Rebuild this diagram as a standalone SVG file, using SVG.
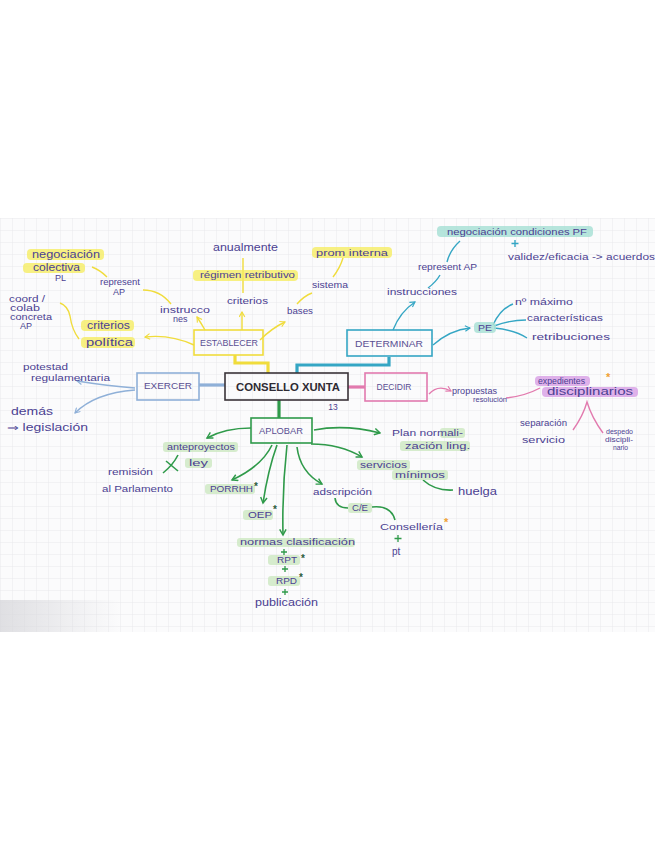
<svg xmlns="http://www.w3.org/2000/svg" width="655" height="848" viewBox="0 0 655 848">
<defs>
<pattern id="grid" width="12" height="12" patternUnits="userSpaceOnUse" x="0" y="218">
<path d="M12,0 L0,0 0,12" fill="none" stroke="#e3e3e8" stroke-width="0.8"/>
</pattern>
<linearGradient id="shadow" x1="0" y1="0" x2="1" y2="0">
<stop offset="0" stop-color="#d8d8dc" stop-opacity="0.8"/>
<stop offset="1" stop-color="#d8d8dc" stop-opacity="0"/>
</linearGradient>
<marker id="aY" viewBox="0 0 10 10" refX="8" refY="5" markerWidth="7" markerHeight="7" orient="auto" markerUnits="userSpaceOnUse"><path d="M1,1 L8,5 L1,9" fill="none" stroke="#f0dc3c" stroke-width="1.6"/></marker>
<marker id="aB" viewBox="0 0 10 10" refX="8" refY="5" markerWidth="7" markerHeight="7" orient="auto" markerUnits="userSpaceOnUse"><path d="M1,1 L8,5 L1,9" fill="none" stroke="#35a6c4" stroke-width="1.6"/></marker>
<marker id="aL" viewBox="0 0 10 10" refX="8" refY="5" markerWidth="7" markerHeight="7" orient="auto" markerUnits="userSpaceOnUse"><path d="M1,1 L8,5 L1,9" fill="none" stroke="#8fb0d8" stroke-width="1.6"/></marker>
<marker id="aP" viewBox="0 0 10 10" refX="8" refY="5" markerWidth="7" markerHeight="7" orient="auto" markerUnits="userSpaceOnUse"><path d="M1,1 L8,5 L1,9" fill="none" stroke="#e27aae" stroke-width="1.6"/></marker>
<marker id="aG" viewBox="0 0 10 10" refX="8" refY="5" markerWidth="8" markerHeight="8" orient="auto" markerUnits="userSpaceOnUse"><path d="M1,1 L8,5 L1,9" fill="none" stroke="#2f9a4a" stroke-width="1.8"/></marker>
</defs>
<style>
text{font-family:"Liberation Sans","DejaVu Sans",sans-serif;font-size:9px;fill:#4b3f92;}
.box{fill:none;stroke-width:1.6;}
.bt{font-size:9.5px;fill:#5a4f93;text-anchor:middle;}
.y{stroke:#f0dc3c;fill:none;stroke-width:1.4;}
.b{stroke:#35a6c4;fill:none;stroke-width:1.4;}
.l{stroke:#8fb0d8;fill:none;stroke-width:1.4;}
.p{stroke:#e27aae;fill:none;stroke-width:1.4;}
.g{stroke:#2f9a4a;fill:none;stroke-width:1.6;}
.hy{fill:#f6ec5a;opacity:0.75;}
.hg{fill:#cfe9c4;opacity:0.85;}
.ht{fill:#a9e0d6;opacity:0.85;}
.hp{fill:#d9a3e6;opacity:0.85;}
.pl{stroke:#2f9a4a;stroke-width:1.3;fill:none;}
.star{fill:#2a5a3a;font-size:10px;font-weight:bold;}
.ostar{fill:#f0a030;font-size:11px;font-weight:bold;}
</style>
<rect width="655" height="848" fill="#ffffff"/>
<rect x="0" y="218" width="655" height="414" fill="#fbfbfc"/>
<rect x="0" y="218" width="655" height="414" fill="url(#grid)"/>
<rect x="0" y="600" width="120" height="32" fill="url(#shadow)"/>

<g id="connectors">
<polyline points="235,355 235,363 268,363 268,373" fill="none" stroke="#f0dc3c" stroke-width="3.2"/>
<polyline points="389,357 389,365 297,365 297,373" fill="none" stroke="#35a6c4" stroke-width="3.2"/>
<line x1="199" y1="385" x2="225" y2="385" stroke="#8fb0d8" stroke-width="3.2"/>
<line x1="348" y1="387" x2="365" y2="387" stroke="#e27aae" stroke-width="3.2"/>
<line x1="279" y1="400" x2="279" y2="418" stroke="#2f9a4a" stroke-width="3.2"/>
<path class="y" d="M205,330 Q201,323 197,317" marker-end="url(#aY)"/>
<path class="y" d="M171,304 Q160,290 143,290"/>
<path class="y" d="M107,277 Q100,270 92,267"/>
<path class="y" d="M194,345 Q170,334 145,337" marker-end="url(#aY)"/>
<path class="y" d="M79,339 Q72,330 70,316 Q68,306 60,303"/>
<path class="y" d="M242,330 L242,312" marker-end="url(#aY)"/>
<path class="y" d="M243,293 L243,258"/>
<path class="y" d="M260,340 Q272,328 285,322" marker-end="url(#aY)"/>
<path class="y" d="M297,304 Q304,296 312,293"/>
<path class="y" d="M333,277 Q340,268 343,258"/>
<path class="b" d="M393,330 Q400,312 415,302" marker-end="url(#aB)"/>
<path class="b" d="M428,288 Q436,282 440,275"/>
<path class="b" d="M447,262 Q450,250 460,241"/>
<path class="b" d="M433,345 Q450,330 470,328" marker-end="url(#aB)"/>
<path class="b" d="M493,325 Q500,309 513,304"/>
<path class="b" d="M494,326 Q510,320 526,320"/>
<path class="b" d="M494,328 Q515,330 527,338"/>
<path class="b" d="M515,240 L515,247 M511.5,243.5 L518.5,243.5"/>
<path class="l" d="M135,388 Q108,386 77,381" marker-end="url(#aL)"/>
<path class="l" d="M135,390 Q95,393 75,413" marker-end="url(#aL)"/>
<path class="p" d="M429,394 Q438,384 451,391" marker-end="url(#aP)"/>
<path class="p" d="M506,398 Q525,396 540,388"/>
<path class="p" stroke-width="1.8" d="M573,430 Q583,416 587,402 Q592,418 603,433"/>
<path class="g" d="M251,428 Q225,428 207,438" marker-end="url(#aG)"/>
<path class="g" d="M178,455 Q173,465 163,473"/>
<path class="g" d="M166,461 L178,471"/>
<path class="g" d="M272,445 Q262,466 232,480" marker-end="url(#aG)"/>
<path class="g" d="M277,445 Q268,470 263,503" marker-end="url(#aG)"/>
<path class="g" d="M287,445 Q282,490 283,535" marker-end="url(#aG)"/>
<path class="g" d="M297,447 Q300,472 322,484" marker-end="url(#aG)"/>
<path class="g" d="M335,498 Q336,508 348,508"/>
<path class="g" d="M372,507 Q391,505 395,520"/>
<path class="g" d="M311,444 Q340,444 362,457" marker-end="url(#aG)"/>
<path class="g" d="M423,480 Q435,491 453,490"/>
<path class="g" d="M314,430 Q345,424 380,433" marker-end="url(#aG)"/>
<path class="pl" d="M284,549 L284,555 M281,552 L287,552"/>
<path class="pl" d="M285,566 L285,572 M282,569 L288,569"/>
<path class="pl" d="M285,589 L285,595 M282,592 L288,592"/>
<path class="pl" d="M398,535 L398,542 M394.5,538.5 L401.5,538.5"/>
</g>

<g id="consello">
<rect class="box" x="225" y="373" width="123" height="27" stroke="#3a3338" stroke-width="2"/>
<text x="288" y="391" text-anchor="middle" style="font-size:11.5px;fill:#2e2a33;font-weight:bold" textLength="104" lengthAdjust="spacingAndGlyphs">CONSELLO XUNTA</text>
<text x="333" y="410" text-anchor="middle" style="font-size:8.5px">13</text>
</g>

<g id="establecer">
<rect class="box" x="194" y="330" width="69" height="25" stroke="#f0dc3c"/>
<text class="bt" x="229" y="346" textLength="58" lengthAdjust="spacingAndGlyphs">ESTABLECER</text>
</g>
<g id="est-instrucciones"><text x="160" y="313" textLength="50" lengthAdjust="spacingAndGlyphs">instrucco</text><text x="173" y="322">nes</text></g>
<g id="est-represent"><text x="100" y="285" textLength="40" lengthAdjust="spacingAndGlyphs">represent</text><text x="113" y="295">AP</text></g>
<g id="est-negociacion">
<rect class="hy" x="27" y="249" width="77" height="11" rx="4"/>
<rect class="hy" x="23" y="263" width="62" height="10" rx="4"/>
<text x="32" y="258" textLength="68" lengthAdjust="spacingAndGlyphs" style="font-size:10px">negociación</text>
<text x="33" y="271" textLength="47" lengthAdjust="spacingAndGlyphs" style="font-size:10px">colectiva</text>
<text x="55" y="281">PL</text>
</g>
<g id="est-coord">
<text x="9" y="302" textLength="36" lengthAdjust="spacingAndGlyphs">coord /</text>
<text x="10" y="311" textLength="30" lengthAdjust="spacingAndGlyphs">colab</text>
<text x="10" y="320" textLength="42" lengthAdjust="spacingAndGlyphs">concreta</text>
<text x="20" y="329">AP</text>
</g>
<g id="est-criterios-politica">
<rect class="hy" x="81" y="320" width="53" height="11" rx="4"/>
<rect class="hy" x="81" y="337" width="54" height="11" rx="4"/>
<text x="87" y="329" textLength="43" lengthAdjust="spacingAndGlyphs" style="font-size:10px">criterios</text>
<text x="86" y="346" textLength="47" lengthAdjust="spacingAndGlyphs" style="font-size:10.5px">política</text>
</g>
<g id="est-criterios"><text x="227" y="304" textLength="41" lengthAdjust="spacingAndGlyphs">criterios</text></g>
<g id="est-regimen">
<rect class="hy" x="193" y="270" width="105" height="11" rx="4"/>
<text x="200" y="278" textLength="95" lengthAdjust="spacingAndGlyphs">régimen retributivo</text>
</g>
<g id="est-anualmente"><text x="213" y="251" textLength="65" lengthAdjust="spacingAndGlyphs" style="font-size:10px">anualmente</text></g>
<g id="est-bases"><text x="287" y="314" textLength="26" lengthAdjust="spacingAndGlyphs">bases</text></g>
<g id="est-sistema"><text x="312" y="288" textLength="36" lengthAdjust="spacingAndGlyphs">sistema</text></g>
<g id="est-prom">
<rect class="hy" x="312" y="247" width="80" height="11" rx="4"/>
<text x="316" y="256" textLength="72" lengthAdjust="spacingAndGlyphs">prom interna</text>
</g>

<g id="determinar">
<rect class="box" x="347" y="330" width="85" height="26" stroke="#35a6c4"/>
<text class="bt" x="389" y="347" textLength="68" lengthAdjust="spacingAndGlyphs">DETERMINAR</text>
</g>
<g id="det-instrucciones"><text x="387" y="295" textLength="70" lengthAdjust="spacingAndGlyphs">instrucciones</text></g>
<g id="det-represent"><text x="418" y="270" textLength="59" lengthAdjust="spacingAndGlyphs">represent AP</text></g>
<g id="det-negociacion">
<rect class="ht" x="437" y="226" width="156" height="11" rx="4"/>
<text x="447" y="235" textLength="140" lengthAdjust="spacingAndGlyphs">negociación condiciones PF</text>
<text x="508" y="260" textLength="147" lengthAdjust="spacingAndGlyphs">validez/eficacia -&gt; acuerdos</text>
</g>
<g id="det-pe">
<rect class="ht" x="474" y="322" width="22" height="11" rx="4"/>
<text x="478" y="331" textLength="14" lengthAdjust="spacingAndGlyphs">PE</text>
</g>
<g id="det-maximo"><text x="515" y="305" textLength="58" lengthAdjust="spacingAndGlyphs">nº máximo</text></g>
<g id="det-caracteristicas"><text x="527" y="321" textLength="76" lengthAdjust="spacingAndGlyphs">características</text></g>
<g id="det-retribuciones"><text x="532" y="340" textLength="78" lengthAdjust="spacingAndGlyphs">retribuciones</text></g>

<g id="exercer">
<rect class="box" x="137" y="373" width="62" height="27" stroke="#8fb0d8"/>
<text class="bt" x="168" y="389" textLength="48" lengthAdjust="spacingAndGlyphs">EXERCER</text>
</g>
<g id="exe-potestad">
<text x="23" y="370" textLength="45" lengthAdjust="spacingAndGlyphs">potestad</text>
<text x="31" y="381" textLength="79" lengthAdjust="spacingAndGlyphs">regulamentaria</text>
</g>
<g id="exe-demas">
<text x="11" y="415" textLength="42" lengthAdjust="spacingAndGlyphs" style="font-size:10.5px">demás</text>
<text x="7" y="431" textLength="81" lengthAdjust="spacingAndGlyphs" style="font-size:10px">⇒ legislación</text>
</g>

<g id="decidir">
<rect class="box" x="365" y="373" width="62" height="28" stroke="#e27aae"/>
<text class="bt" x="394" y="390" textLength="35" lengthAdjust="spacingAndGlyphs" style="font-size:8.5px">DECIDIR</text>
</g>
<g id="dec-propuestas">
<text x="452" y="394" textLength="45" lengthAdjust="spacingAndGlyphs">propuestas</text>
<text x="473" y="402" textLength="34" lengthAdjust="spacingAndGlyphs" style="font-size:8px">resolución</text>
</g>
<g id="dec-expedientes">
<rect class="hp" x="535" y="376" width="55" height="10" rx="4"/>
<rect class="hp" x="542" y="387" width="96" height="10" rx="4"/>
<text x="538" y="384" textLength="47" lengthAdjust="spacingAndGlyphs">expedientes</text>
<text x="547" y="395" textLength="86" lengthAdjust="spacingAndGlyphs" style="font-size:10px">disciplinarios</text>
<text class="ostar" x="606" y="381">*</text>
</g>
<g id="dec-separacion">
<text x="520" y="426" textLength="47" lengthAdjust="spacingAndGlyphs">separación</text>
<text x="522" y="443" textLength="43" lengthAdjust="spacingAndGlyphs">servicio</text>
</g>
<g id="dec-despedo">
<text x="606" y="434" textLength="27" lengthAdjust="spacingAndGlyphs" style="font-size:7px">despedo</text>
<text x="605" y="442" textLength="28" lengthAdjust="spacingAndGlyphs" style="font-size:7px">discipli-</text>
<text x="613" y="450" textLength="15" lengthAdjust="spacingAndGlyphs" style="font-size:7px">nario</text>
</g>

<g id="aplobar">
<rect class="box" x="251" y="418" width="61" height="25" stroke="#2f9a4a"/>
<text class="bt" x="281" y="434" textLength="44" lengthAdjust="spacingAndGlyphs">APLOBAR</text>
</g>
<g id="apl-anteproyectos">
<rect class="hg" x="163" y="442" width="75" height="10" rx="3"/>
<rect class="hg" x="185" y="458" width="27" height="10" rx="3"/>
<text x="167" y="450" textLength="68" lengthAdjust="spacingAndGlyphs">anteproyectos</text>
<text x="189" y="466" textLength="19" lengthAdjust="spacingAndGlyphs">ley</text>
</g>
<g id="apl-remision">
<text x="108" y="475" textLength="45" lengthAdjust="spacingAndGlyphs">remisión</text>
<text x="102" y="492" textLength="71" lengthAdjust="spacingAndGlyphs">al Parlamento</text>
</g>
<g id="apl-porrhh">
<rect class="hg" x="205" y="484" width="50" height="10" rx="3"/>
<text x="210" y="492" textLength="43" lengthAdjust="spacingAndGlyphs">PORRHH</text>
<text class="star" x="254" y="490">*</text>
</g>
<g id="apl-oep">
<rect class="hg" x="243" y="510" width="30" height="10" rx="3"/>
<text x="248" y="518" textLength="24" lengthAdjust="spacingAndGlyphs">OEP</text>
<text class="star" x="273" y="513">*</text>
</g>
<g id="apl-normas">
<rect class="hg" x="237" y="538" width="118" height="9" rx="3" opacity="0.5"/>
<text x="240" y="545" textLength="115" lengthAdjust="spacingAndGlyphs">normas clasificación</text>
<rect class="hg" x="268" y="555" width="32" height="10" rx="3"/>
<text x="277" y="563" textLength="20" lengthAdjust="spacingAndGlyphs">RPT</text>
<text class="star" x="301" y="562">*</text>
<rect class="hg" x="268" y="576" width="32" height="10" rx="3"/>
<text x="276" y="584" textLength="21" lengthAdjust="spacingAndGlyphs">RPD</text>
<text class="star" x="299" y="581">*</text>
<text x="255" y="606" textLength="63" lengthAdjust="spacingAndGlyphs" style="font-size:10px">publicación</text>
</g>
<g id="apl-adscripcion"><text x="313" y="495" textLength="59" lengthAdjust="spacingAndGlyphs">adscripción</text></g>
<g id="apl-ce">
<rect class="hg" x="348" y="503" width="24" height="10" rx="3"/>
<text x="352" y="511" textLength="16" lengthAdjust="spacingAndGlyphs">C/E</text>
</g>
<g id="apl-conselleria">
<text x="380" y="530" textLength="63" lengthAdjust="spacingAndGlyphs" style="font-size:9.5px">Consellería</text>
<text class="ostar" x="444" y="526">*</text>
<text x="392" y="555" style="font-size:10px">pt</text>
</g>
<g id="apl-servicios">
<rect class="hg" x="357" y="460" width="53" height="10" rx="3"/>
<rect class="hg" x="392" y="470" width="56" height="10" rx="3"/>
<text x="360" y="468" textLength="47" lengthAdjust="spacingAndGlyphs">servicios</text>
<text x="395" y="478" textLength="50" lengthAdjust="spacingAndGlyphs">mínimos</text>
</g>
<g id="apl-huelga"><text x="458" y="495" textLength="39" lengthAdjust="spacingAndGlyphs" style="font-size:10px">huelga</text></g>
<g id="apl-plan">
<rect class="hg" x="440" y="428" width="25" height="10" rx="3" opacity="0.6"/>
<rect class="hg" x="400" y="441" width="70" height="10" rx="3"/>
<text x="392" y="436" textLength="71" lengthAdjust="spacingAndGlyphs">Plan normali-</text>
<text x="405" y="449" textLength="65" lengthAdjust="spacingAndGlyphs">zación ling.</text>
</g>
</svg>
